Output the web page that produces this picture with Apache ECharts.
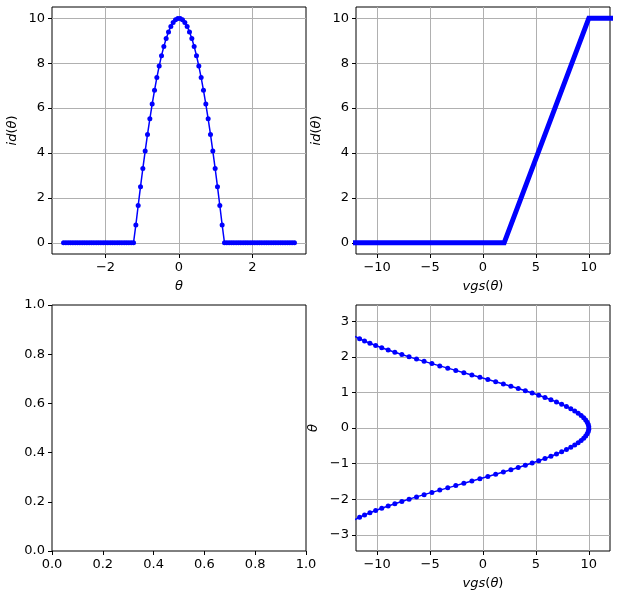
<!DOCTYPE html>
<html>
<head>
<meta charset="utf-8">
<script src="https://cdn.jsdelivr.net/npm/echarts@6/dist/echarts.min.js"></script>
<style>
html,body{margin:0;padding:0;background:#fff;}
#chart{width:617px;height:601px;}
</style>
</head>
<body>
<div id="chart"></div>
<script>
// theta samples (-pi .. pi, 100 points)
const theta = [
-3.1416,-3.0781,-3.0147,-2.9512,-2.8877,-2.8243,-2.7608,-2.6973,-2.6339,-2.5704,
-2.5069,-2.4435,-2.3800,-2.3165,-2.2531,-2.1896,-2.1261,-2.0627,-1.9992,-1.9357,
-1.8723,-1.8088,-1.7453,-1.6819,-1.6184,-1.5549,-1.4915,-1.4280,-1.3645,-1.3011,
-1.2376,-1.1741,-1.1107,-1.0472,-0.9837,-0.9203,-0.8568,-0.7933,-0.7299,-0.6664,
-0.6029,-0.5395,-0.4760,-0.4125,-0.3491,-0.2856,-0.2221,-0.1587,-0.0952,-0.0317,
0.0317,0.0952,0.1587,0.2221,0.2856,0.3491,0.4125,0.4760,0.5395,0.6029,
0.6664,0.7299,0.7933,0.8568,0.9203,0.9837,1.0472,1.1107,1.1741,1.2376,
1.3011,1.3645,1.4280,1.4915,1.5549,1.6184,1.6819,1.7453,1.8088,1.8723,
1.9357,1.9992,2.0627,2.1261,2.1896,2.2531,2.3165,2.3800,2.4435,2.5069,
2.5704,2.6339,2.6973,2.7608,2.8243,2.8877,2.9512,3.0147,3.0781,3.1416
];
// vgs(theta)
const vgsTheta = [
-14.000,-13.976,-13.903,-13.783,-13.615,-13.401,-13.140,-12.835,-12.486,-12.095,
-11.663,-11.193,-10.685,-10.142,-9.567,-8.961,-8.327,-7.667,-6.985,-6.283,
-5.563,-4.829,-4.084,-3.330,-2.571,-1.810,-1.049,-0.292,0.458,1.198,
1.925,2.636,3.329,4.000,4.647,5.267,5.858,6.418,6.943,7.433,
7.884,8.296,8.666,8.993,9.276,9.514,9.705,9.849,9.946,9.994,
9.994,9.946,9.849,9.705,9.514,9.276,8.993,8.666,8.296,7.884,
7.433,6.943,6.418,5.858,5.267,4.647,4.000,3.329,2.636,1.925,
1.198,0.458,-0.292,-1.049,-1.810,-2.571,-3.330,-4.084,-4.829,-5.563,
-6.283,-6.985,-7.667,-8.327,-8.961,-9.567,-10.142,-10.685,-11.193,-11.663,
-12.095,-12.486,-12.835,-13.140,-13.401,-13.615,-13.783,-13.903,-13.976,-14.000
];
// id(theta)
const idTheta = [
0,0,0,0,0,0,0,0,0,0,
0,0,0,0,0,0,0,0,0,0,
0,0,0,0,0,0,0,0,0,0,
0,0.795,1.661,2.500,3.309,4.084,4.823,5.522,6.179,6.791,
7.355,7.870,8.333,8.742,9.095,9.392,9.631,9.812,9.932,9.992,
9.992,9.932,9.812,9.631,9.392,9.095,8.742,8.333,7.870,7.355,
6.791,6.179,5.522,4.823,4.084,3.309,2.500,1.661,0.795,0,
0,0,0,0,0,0,0,0,0,0,
0,0,0,0,0,0,0,0,0,0,
0,0,0,0,0,0,0,0,0,0
];
// transfer characteristic id(vgs)
const vgsSweep = [-15, 2, 10, 15];
const idSweep = [0, 0, 10, 10];

// tick values
const thetaXTicks = [-2, 0, 2];
const idTicks = [0, 2, 4, 6, 8, 10];
const vgsTicks = [-10, -5, 0, 5, 10];
const unitTicks = [0, 0.2, 0.4, 0.6, 0.8, 1.0];
const thetaYTicks = [-3, -2, -1, 0, 1, 2, 3];

const FONT = "'DejaVu Sans', sans-serif";
const FS = 13;
const BLUE = '#0000ff';
const minus = v => String(v).replace('-', '\u2212');

const richName = {
  i: {fontStyle: 'italic', fontSize: FS, fontFamily: FONT, color: '#000'},
  n: {fontStyle: 'normal', fontSize: FS, fontFamily: FONT, color: '#000'}
};

function axis(gridIndex, min, max, ticks, fmt, grid, name, nameGap, isY) {
  return {
    type: 'value', gridIndex, min, max,
    name: name || '',
    nameLocation: 'middle', nameGap: nameGap || 0,
    nameRotate: isY ? 90 : 0,
    nameTextStyle: {fontSize: FS, fontFamily: FONT, color: '#000', rich: richName},
    axisLine: {show: false, onZero: false},
    axisTick: {show: true, inside: false, length: 4, lineStyle: {color: '#000', width: 1}, customValues: ticks},
    axisLabel: {show: true, customValues: ticks, formatter: fmt, color: '#000', fontSize: FS, fontFamily: FONT, margin: 7},
    splitLine: {show: grid, lineStyle: {color: '#b0b0b0', width: 1}},
    minorTick: {show: false}
  };
}

const gridBase = {show: true, borderColor: '#000', borderWidth: 1, backgroundColor: 'transparent', containLabel: false};
const TH = 3.456;

const option = {
  animation: false,
  backgroundColor: '#fff',
  grid: [
    Object.assign({left: 52, top: 7, width: 254, height: 247}, gridBase),
    Object.assign({left: 356, top: 7, width: 254, height: 247}, gridBase),
    Object.assign({left: 52, top: 305, width: 254, height: 246}, gridBase),
    Object.assign({left: 356, top: 305, width: 254, height: 246}, gridBase)
  ],
  xAxis: [
    axis(0, -TH, TH, thetaXTicks, minus, true, '{i|θ}', 26, false),
    axis(1, -12, 12, vgsTicks, minus, true, '{i|vgs}{n|(}{i|θ}{n|)}', 26, false),
    axis(2, 0, 1, unitTicks, v => v.toFixed(1), false, '', 0, false),
    axis(3, -12, 12, vgsTicks, minus, true, '{i|vgs}{n|(}{i|θ}{n|)}', 26, false)
  ],
  yAxis: [
    axis(0, -0.5, 10.5, idTicks, minus, true, '{i|id}{n|(}{i|θ}{n|)}', 33, true),
    axis(1, -0.5, 10.5, idTicks, minus, true, '{i|id}{n|(}{i|θ}{n|)}', 33, true),
    axis(2, 0, 1, unitTicks, v => v.toFixed(1), false, '', 0, true),
    axis(3, -TH, TH, thetaYTicks, minus, true, '{i|θ}', 36, true)
  ],
  series: [
    {
      type: 'line', xAxisIndex: 0, yAxisIndex: 0,
      data: theta.map((t, i) => [t, idTheta[i]]),
      symbol: 'circle', symbolSize: 5, showSymbol: true,
      lineStyle: {color: BLUE, width: 1.5},
      itemStyle: {color: BLUE, borderWidth: 0},
      clip: true, silent: true
    },
    {
      type: 'line', xAxisIndex: 1, yAxisIndex: 1,
      data: vgsSweep.map((v, i) => [v, idSweep[i]]),
      symbol: 'none',
      lineStyle: {color: BLUE, width: 5, join: 'miter', cap: 'butt'},
      clip: true, silent: true
    },
    {
      type: 'line', xAxisIndex: 3, yAxisIndex: 3,
      data: vgsTheta.map((v, i) => [v, theta[i]]),
      symbol: 'circle', symbolSize: 5, showSymbol: true,
      lineStyle: {color: BLUE, width: 1.5},
      itemStyle: {color: BLUE, borderWidth: 0},
      clip: true, silent: true
    }
  ]
};

const chart = echarts.init(document.getElementById('chart'), null, {renderer: 'canvas'});
chart.setOption(option);
</script>
</body>
</html>
